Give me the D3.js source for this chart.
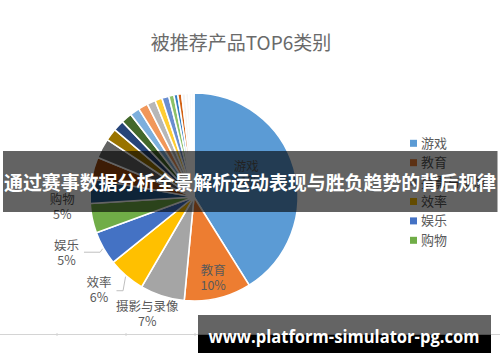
<!DOCTYPE html>
<html><head><meta charset="utf-8">
<script src="https://cdn.jsdelivr.net/npm/d3@7"></script>
<style>
html,body{margin:0;padding:0;background:#fff;}
svg{display:block;}
</style></head>
<body>
<svg id="c" width="500" height="362"></svg>
<script>
// ---- data ----
const categories = ["游戏","教育","摄影与录像","效率","娱乐","购物",
  "其他1","其他2","其他3","其他4","其他5","其他6","其他7","其他8","其他9","其他10","其他11","其他12","其他13","其他14",
  "其他15","其他16","其他17","其他18"];
const values = [41.1,10.4,6.9,5.8,5.2,4.6,
  3.8,3.4,3.1,1.9,1.7,1.7,1.5,1.5,1.3,1.1,1.1,0.8,0.6,0.6,
  0.6,0.5,0.4,0.4];
const colors = ["#5B9BD5","#ED7D31","#A5A5A5","#FFC000","#4472C4","#70AD47",
  "#255E91","#9E480E","#636363","#997300","#264478","#43682B",
  "#7CAFDD","#F1975A","#B7B7B7","#FFCD33","#698ED0","#8CC168",
  "#327DC2","#D26012","#F4F4F4","#F6F6F6","#F8F8F8","#FAFAFA"];
const legendItems = ["游戏","教育","摄影与录像","效率","娱乐","购物"];
const title = "被推荐产品TOP6类别";
const bannerText = "通过赛事数据分析全景解析运动表现与胜负趋势的背后规律";
const watermark = "www.platform-simulator-pg.com";

const svg = d3.select("#c");
const W = 500, H = 362;
const cx = 194, cy = 197, R = 104;
const font = "'Noto Sans CJK SC','Noto Sans',sans-serif";

// title
svg.append("text").attr("x", 241).attr("y", 50).attr("text-anchor","middle")
  .attr("font-family", font).attr("font-size", 19).attr("fill","#6a6a6a")
  .text(title);

// pie
const data = categories.map((c,i)=>({name:c, value:values[i], color:colors[i]}));
const pie = d3.pie().sort(null).value(d=>d.value);
const arcs = pie(data);
const arc = d3.arc().innerRadius(0).outerRadius(R);
const g = svg.append("g").attr("transform", `translate(${cx},${cy})`);
g.selectAll("path").data(arcs).join("path")
  .attr("d", arc).attr("fill", d=>d.data.color)
  .attr("stroke","#fff").attr("stroke-width",1.6).attr("stroke-linejoin","round");

// data labels for top 6
const total = d3.sum(values);
const labelLayout = [
  {r:0.55, da:-0.14, outside:false},
  {r:0.80, da:0.0,  outside:false},
  {r:1.21, da:0.07, outside:true},
  {r:1.28, da:0.085, outside:true, leader:true},
  {r:1.34, da:0.10, outside:true, leader:true},
  {r:1.27, da:0.13, outside:true}
];
const lab = svg.append("g").attr("font-family", font).attr("font-size", 12.5).attr("fill","#595959").attr("text-anchor","middle");
labelLayout.forEach((L,i)=>{
  const a = arcs[i];
  const mid = (a.startAngle + a.endAngle)/2 + L.da;
  const lx = cx + Math.sin(mid)*R*L.r;
  const ly = cy - Math.cos(mid)*R*L.r;
  lab.append("text").attr("x", lx).attr("y", ly - 3).text(data[i].name);
  lab.append("text").attr("x", lx).attr("y", ly + 12).text(Math.round(values[i]/total*100) + "%");
  if (L.leader) {
    const m0 = (a.startAngle + a.endAngle)/2;
    const px = cx + Math.sin(m0)*(R+1), py = cy - Math.cos(m0)*(R+1);
    const tw = data[i].name.length*12.5;
    const hy = ly + (i===3 ? 0.5 : -1);
    svg.append("path")
      .attr("d", `M${px},${py} L${px-2.5},${hy} L${lx + tw/2 + 5},${hy}`)
      .attr("fill","none").attr("stroke","#bfbfbf").attr("stroke-width",1);
  }
});

// legend
const leg = svg.append("g").attr("font-family", font).attr("font-size", 13).attr("fill","#595959");
legendItems.forEach((n,i)=>{
  const y = 143.3 + i*19.4;
  leg.append("rect").attr("x", 410).attr("y", y-3.5).attr("width",7).attr("height",7).attr("fill", colors[i]);
  leg.append("text").attr("x", 421).attr("y", y+4.5).text(n);
});

// bottom sheet line
svg.append("line").attr("x1",0).attr("x2",W).attr("y1",334.5).attr("y2",334.5).attr("stroke","#d4d4d4").attr("stroke-width",1);
[57,126,195].forEach(x=>{
  svg.append("line").attr("x1",x).attr("x2",x).attr("y1",333).attr("y2",336).attr("stroke","#d4d4d4");
});

// banner overlay
svg.append("rect").attr("x",3).attr("y",151).attr("width",494.5).attr("height",61).attr("fill","rgba(0,0,0,0.61)");
svg.append("text").attr("x",250).attr("y",190).attr("text-anchor","middle")
  .attr("font-family", font).attr("font-weight","bold").attr("font-size",19.5).attr("fill","#fff")
  .attr("textLength",492).attr("lengthAdjust","spacingAndGlyphs")
  .text(bannerText);

// watermark box
svg.append("rect").attr("x",198).attr("y",315).attr("width",293).attr("height",19.5).attr("fill","#646464");
svg.append("rect").attr("x",198).attr("y",334.5).attr("width",293).attr("height",18.5).attr("fill","#000");
svg.append("text").attr("x",344).attr("y",343).attr("text-anchor","middle")
  .attr("font-family","'Open Sans','DejaVu Sans',sans-serif").attr("font-weight","bold").attr("font-size",18).attr("fill","#fff")
  .attr("textLength",271).attr("lengthAdjust","spacingAndGlyphs")
  .text(watermark);
</script>
</body></html>
